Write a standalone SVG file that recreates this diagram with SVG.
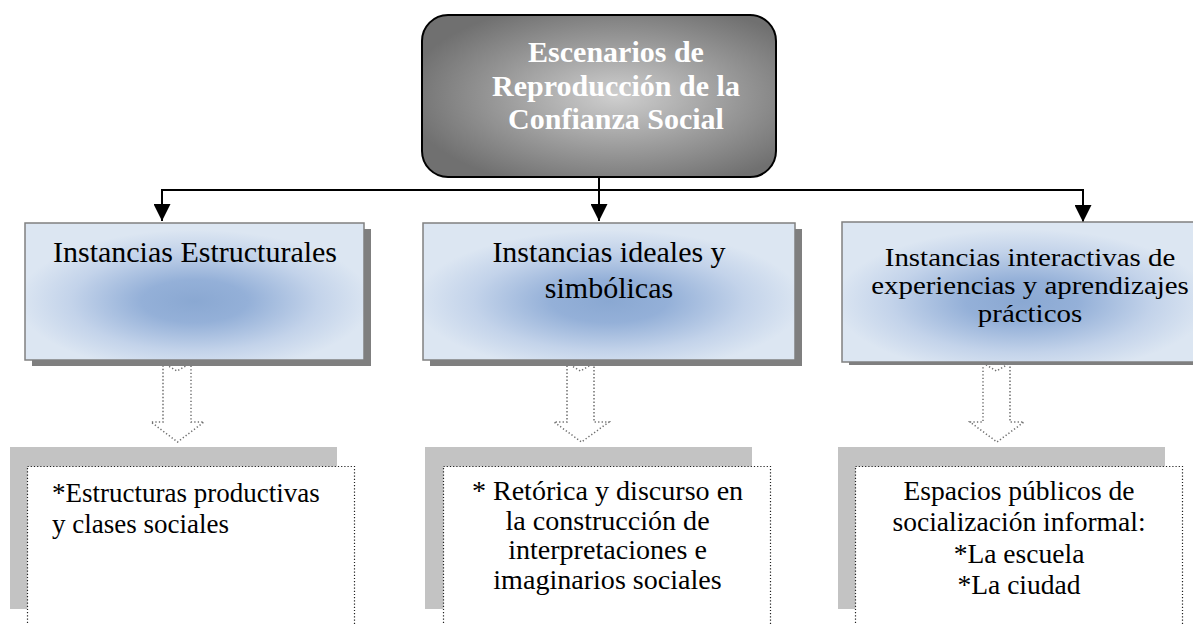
<svg xmlns="http://www.w3.org/2000/svg" width="1193" height="624" viewBox="0 0 1193 624">
  <defs>
    <radialGradient id="gGray" cx="0.55" cy="0.5" r="0.6">
      <stop offset="0" stop-color="#cfcfcf"/>
      <stop offset="0.55" stop-color="#9a9a9a"/>
      <stop offset="1" stop-color="#707070"/>
    </radialGradient>
    <radialGradient id="gBlue" cx="0.5" cy="0.57" r="0.52">
      <stop offset="0" stop-color="#8aa8d2"/>
      <stop offset="0.3" stop-color="#94b0d8"/>
      <stop offset="0.7" stop-color="#c3d3ea"/>
      <stop offset="1" stop-color="#dce6f2"/>
    </radialGradient>
    <marker id="ah" viewBox="0 0 10 10" refX="10" refY="5" markerWidth="17" markerHeight="17" markerUnits="userSpaceOnUse" orient="auto">
      <path d="M0,0 L10,5 L0,10 z" fill="#000"/>
    </marker>
    <style>
      .conn { fill: none; stroke: #000; stroke-width: 2; }
      .blk { fill: url(#gBlue); stroke: #808080; stroke-width: 1.5; }
      .shd { fill: #7f7f7f; }
      .lshd { fill: #c3c3c3; }
      .wbox { fill: #fff; stroke: #222; stroke-width: 1.2; stroke-dasharray: 1.2 2; }
      .darr { fill: #fff; stroke: #6f6f6f; stroke-width: 1.5; stroke-dasharray: 1.3 2.2; }
      .title { font-family: "Liberation Serif", "Times New Roman", serif; font-weight: bold; font-size: 30px; fill: #fff; text-anchor: middle; }
      .t2 { font-family: "Liberation Serif", "Times New Roman", serif; font-size: 30px; fill: #000; text-anchor: middle; }
      .t3 { font-family: "Liberation Serif", "Times New Roman", serif; font-size: 24.5px; fill: #000; text-anchor: middle; }
      .tb { font-family: "Liberation Serif", "Times New Roman", serif; font-size: 27px; fill: #000; }
    </style>
  </defs>

  <rect width="1193" height="624" fill="#fff"/>

  <g id="connectors">
    <line class="conn" x1="599" y1="177" x2="599" y2="190"/>
    <line class="conn" x1="161" y1="190" x2="1084" y2="190"/>
    <path class="conn" d="M162,189 L162,221" marker-end="url(#ah)"/>
    <path class="conn" d="M599,189 L599,221" marker-end="url(#ah)"/>
    <path class="conn" d="M1083,189 L1083,222" marker-end="url(#ah)"/>
    <path class="darr" d="M163,363 L177,371 L191,363 L191,422 L204,422 L177.5,442 L151,422 L163,422 Z"/>
    <path class="darr" d="M567,363 L580.5,371 L594,363 L594,422 L609,422 L581.5,442 L554,422 L567,422 Z"/>
    <path class="darr" d="M983,363 L996.5,371 L1010,363 L1010,422 L1024,422 L997,442 L970,422 L983,422 Z"/>
  </g>

  <g id="top">
    <rect x="422" y="15" width="354" height="162" rx="26" ry="26" fill="url(#gGray)" stroke="#000" stroke-width="2"/>
    <text class="title" x="616" y="62">Escenarios de</text>
    <text class="title" x="616" y="96">Reproducción de la</text>
    <text class="title" x="616" y="129">Confianza Social</text>
  </g>

  <g id="estructurales">
    <rect class="shd" x="32" y="229" width="339" height="137"/>
    <rect class="blk" x="25" y="223" width="339" height="137"/>
    <text class="t2" x="195" y="262">Instancias Estructurales</text>
  </g>

  <g id="ideales">
    <rect class="shd" x="430" y="229" width="372" height="137"/>
    <rect class="blk" x="423" y="223" width="372" height="137"/>
    <text class="t2" x="609" y="262">Instancias ideales y</text>
    <text class="t2" x="609" y="298">simbólicas</text>
  </g>

  <g id="interactivas">
    <rect class="shd" x="849" y="228" width="360" height="137"/>
    <rect class="blk" x="842" y="222" width="360" height="140"/>
    <g transform="translate(1030,0) scale(1.18,1)">
      <text class="t3" x="0" y="266">Instancias interactivas de</text>
      <text class="t3" x="0" y="294">experiencias y aprendizajes</text>
      <text class="t3" x="0" y="322">prácticos</text>
    </g>
  </g>

  <g id="estructuras">
    <rect class="lshd" x="10" y="447" width="327" height="162"/>
    <rect class="wbox" x="27.5" y="466.5" width="327" height="180"/>
    <text class="tb" x="52" y="502">*Estructuras productivas</text>
    <text class="tb" x="52" y="533">y clases sociales</text>
  </g>

  <g id="retorica">
    <rect class="lshd" x="425" y="447" width="327" height="162"/>
    <rect class="wbox" x="443.5" y="466.5" width="327" height="180"/>
    <g transform="translate(607.5,0) scale(1.04,1)">
      <text class="tb" text-anchor="middle" x="0" y="500">* Retórica y discurso en</text>
      <text class="tb" text-anchor="middle" x="0" y="530">la construcción de</text>
      <text class="tb" text-anchor="middle" x="0" y="559.5">interpretaciones e</text>
      <text class="tb" text-anchor="middle" x="0" y="589">imaginarios sociales</text>
    </g>
  </g>

  <g id="espacios">
    <rect class="lshd" x="838" y="447" width="327" height="162"/>
    <rect class="wbox" x="855.5" y="466.5" width="327" height="180"/>
    <g transform="translate(1019,0) scale(1.02,1)">
      <text class="tb" text-anchor="middle" x="0" y="500">Espacios públicos de</text>
      <text class="tb" text-anchor="middle" x="0" y="531">socialización informal:</text>
      <text class="tb" text-anchor="middle" x="0" y="563">*La escuela</text>
      <text class="tb" text-anchor="middle" x="0" y="594">*La ciudad</text>
    </g>
  </g>
</svg>
